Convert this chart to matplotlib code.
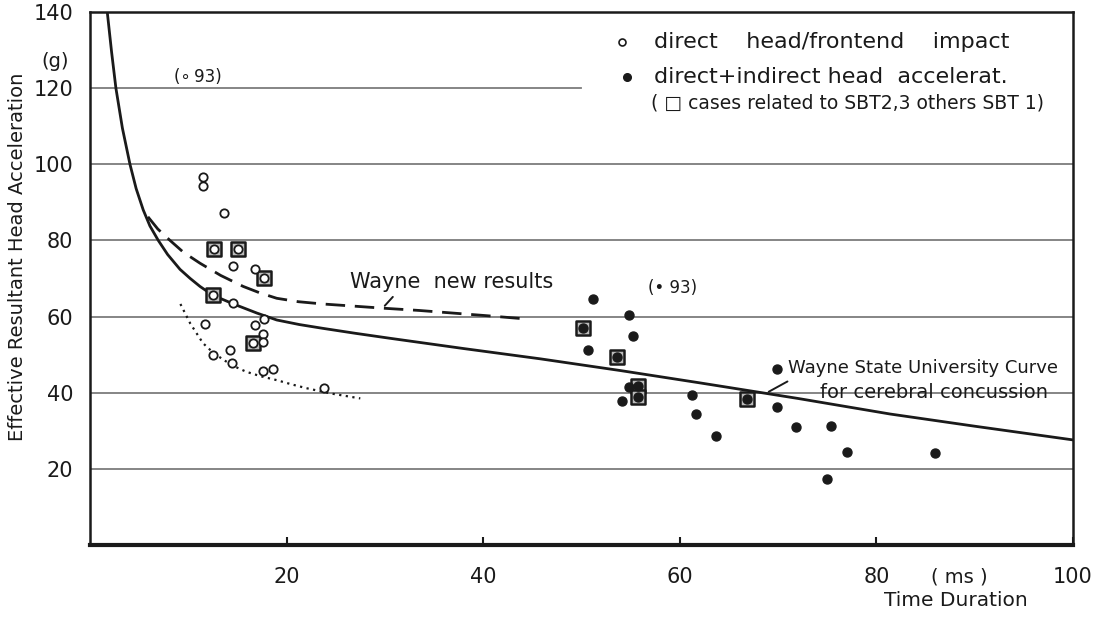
import matplotlib.pyplot as plt

# Direct head/frontend impact (open circles)
direct_x = [11.5, 11.5, 13.6, 12.6, 15.1, 14.6, 16.75, 17.7, 12.55, 14.6, 17.7, 11.7,
            16.8, 17.6, 16.55, 17.6, 14.2, 12.5, 14.5, 17.6, 18.6, 23.8]
direct_y = [96.7, 94.3, 87.1, 77.7, 77.7, 73.3, 72.6, 70.1, 65.6, 63.5, 59.3, 58.0,
            57.7, 55.4, 53.0, 53.3, 51.2, 50.0, 47.7, 45.6, 46.3, 41.2]

# Direct + indirect head acceleration (filled dots)
indirect_x = [51.2, 54.8, 50.2, 55.2, 50.7, 53.6, 69.85, 54.8, 55.8, 55.8, 54.1, 61.2,
              66.8, 69.85, 61.7, 63.7, 71.8, 75.4, 77.0, 75.0, 86.0]
indirect_y = [64.5, 60.4, 56.9, 54.9, 51.2, 49.5, 46.3, 41.6, 41.8, 39.0, 37.9, 39.3,
              38.4, 36.3, 34.4, 28.5, 31.1, 31.3, 24.3, 17.4, 24.2]

# Cases related to SBT 2,3 (squares)
sbt_x = [12.6, 15.1, 17.7, 12.55, 16.55, 50.2, 53.6, 55.8, 55.8, 66.8]
sbt_y = [77.7, 77.7, 70.1, 65.6, 53.0, 56.9, 49.5, 41.8, 39.0, 38.4]

# Wayne State University curve for cerebral concussion
wsu_x = [1.76, 2.2, 2.64, 3.3, 4.07, 4.7, 5.42, 6.1, 6.95, 7.9, 9.16, 10.2,
         11.2, 12.5, 14.6, 17.0, 19.0, 21.3, 23.7, 27.0, 30.5, 38.0, 45.8, 54.0,
         62.0, 72.0, 81.4, 90.0, 100.0]
wsu_y = [140, 129.5, 120, 109.5, 100, 93.6, 88.0, 83.8, 80.0, 76.3, 72.4, 70.0,
         67.9, 65.6, 63.3, 60.9, 59.1, 57.9, 56.9, 55.6, 54.3, 51.6, 48.9, 45.8,
         42.6, 38.5, 34.4, 31.2, 27.6]

# Wayne new results (dashed)
new_x = [5.9, 6.9, 8.1, 9.5, 11.2, 13.3, 15.6, 17.3, 19.0, 21.2, 23.7, 26.5, 29.8,
         33.5, 37.0, 40.5, 44.2]
new_y = [86.2, 83.0, 80.1, 76.9, 74.0, 70.8, 67.9, 66.2, 64.8, 63.9, 63.3, 62.8, 62.2,
         61.6, 60.9, 60.2, 59.4]

# Lower bound of direct impacts (dotted)
low_x = [9.2, 10.2, 11.5, 12.5, 13.6, 14.7, 15.9, 17.4, 19.0, 20.5, 22.0, 24.5, 27.5]
low_y = [63.3, 58.2, 53.0, 50.6, 48.6, 46.9, 45.5, 44.3, 43.3, 42.2, 41.2, 39.8, 38.5]

grid_levels = [20, 40, 60, 80, 100, 120]
x_ticks = [20, 40, 60, 80, 100]
y_ticks = [20, 40, 60, 80, 100, 120, 140]

ink = "#1a1a1a"
plt.rcParams["font.family"] = ["DejaVu Sans"]

fig = plt.figure(figsize=(10.93, 6.17), dpi=100)
ax = fig.add_axes([0.0823, 0.1167, 0.8994, 0.8639])
ax.set_xlim(0, 100)
ax.set_ylim(0, 140)

# faded horizontal grid lines
for level in grid_levels:
    xmax = 0.50 if level == 120 else 1.0
    ax.axhline(level, xmax=xmax, color="#444444", lw=1.3, alpha=0.7, zorder=1)

ax.plot(wsu_x, wsu_y, color=ink, lw=2.0, zorder=3)
ax.plot(new_x, new_y, color=ink, lw=2.0, dashes=(7, 3.5), zorder=3)
ax.plot(low_x, low_y, color=ink, lw=1.6, ls=(0, (1, 2)), zorder=3)

ax.scatter(sbt_x, sbt_y, marker="s", s=105, facecolors="#bbbbbb", edgecolors=ink,
           linewidths=1.8, zorder=4)
ax.scatter(direct_x, direct_y, marker="o", s=36, facecolors="white", edgecolors=ink,
           linewidths=1.3, zorder=5)
ax.scatter(indirect_x, indirect_y, marker="o", s=42, color=ink, zorder=5)

# annotations
ax.text(26.5, 66.5, "Wayne  new results", fontsize=15, color=ink, va="bottom")
ax.annotate("", xy=(29.8, 62.3), xytext=(31.0, 65.7),
            arrowprops=dict(arrowstyle="-", color=ink, lw=1.4))
ax.text(71.0, 46.5, "Wayne State University Curve", fontsize=13, color=ink, va="center")
ax.text(74.3, 40.0, "for cerebral concussion", fontsize=14, color=ink, va="center")
ax.annotate("", xy=(68.8, 39.9), xytext=(71.2, 43.3),
            arrowprops=dict(arrowstyle="-", color=ink, lw=1.4))
ax.text(8.6, 123, "(\u2218\u200993)", fontsize=12, color=ink, va="center")
ax.text(56.8, 67.5, "(\u2022 93)", fontsize=12, color=ink, va="center")

# legend block
ax.plot([54.1], [132.0], marker="o", ms=5, mfc="white", mec=ink, mew=1.2, ls="none")
ax.plot([54.6], [122.8], marker="o", ms=5.5, color=ink, ls="none")
ax.text(57.4, 132.0, "direct    head/frontend    impact", fontsize=16, color=ink,
        va="center")
ax.text(57.4, 122.8, "direct+indirect head  accelerat.", fontsize=16, color=ink,
        va="center")
ax.text(57.1, 116.0, "( \u25a1 cases related to SBT2,3 others SBT 1)", fontsize=13.5,
        color=ink, va="center")

# axes styling
for side in ["top", "left", "right"]:
    ax.spines[side].set_linewidth(1.8)
    ax.spines[side].set_color(ink)
ax.spines["bottom"].set_linewidth(3.0)
ax.spines["bottom"].set_color(ink)

ax.set_xticks(x_ticks)
ax.set_xticklabels([str(t) for t in x_ticks])
ax.set_yticks(y_ticks)
ax.set_yticklabels([str(t) for t in y_ticks])
ax.tick_params(axis="x", direction="in", length=6, width=1.5, color=ink,
               labelsize=15, pad=16, labelcolor=ink)
ax.tick_params(axis="y", length=0, labelsize=15, pad=12, labelcolor=ink)

fig.text(0.016, 0.583, "Effective Resultant Head Acceleration", rotation=90,
         fontsize=14, color=ink, ha="center", va="center")
fig.text(0.050, 0.901, "(g)", fontsize=14, color=ink, ha="center", va="center")
fig.text(0.878, 0.065, "( ms )", fontsize=14, color=ink, ha="center", va="center")
fig.text(0.875, 0.026, "Time Duration", fontsize=14.5, color=ink, ha="center",
         va="center")

fig.savefig("out.png", dpi=100)
